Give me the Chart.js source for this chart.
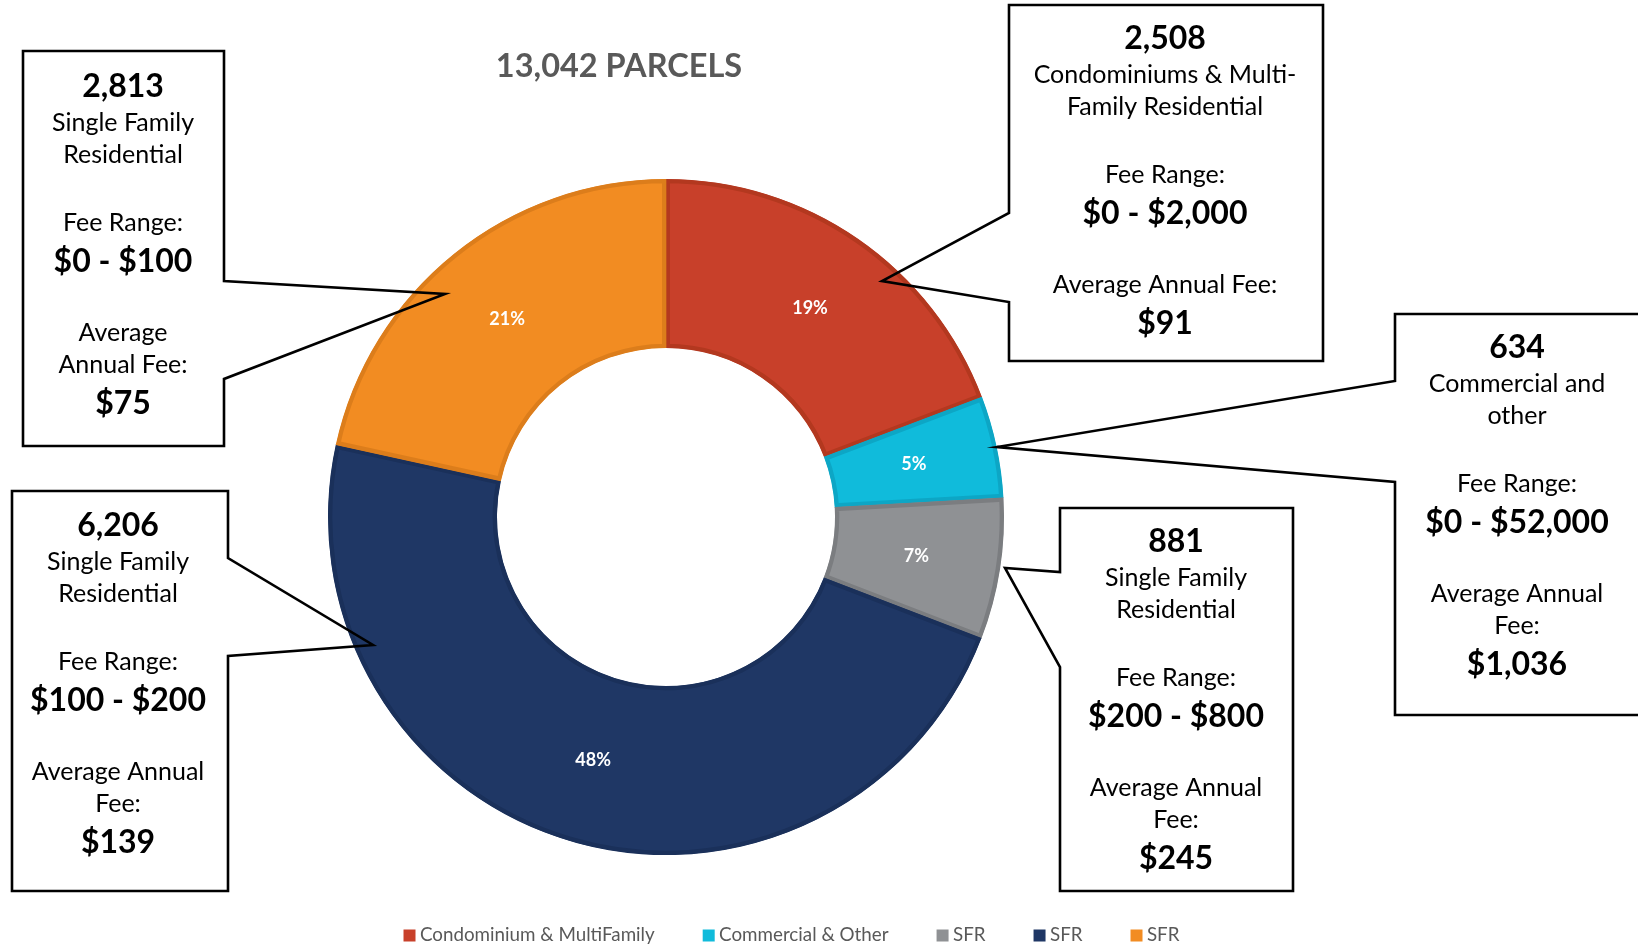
<!DOCTYPE html>
<html><head><meta charset="utf-8">
<script src="https://cdn.jsdelivr.net/npm/chart.js@4.4.1/dist/chart.umd.min.js"></script>
<style>html,body{margin:0;padding:0;background:#fff;}canvas{display:block;}</style>
</head><body>
<canvas id="c" width="1638" height="945"></canvas>
<script>
// ---------- data ----------
const categories = ['Condominium & MultiFamily', 'Commercial & Other', 'SFR', 'SFR', 'SFR'];
const parcels = [2508, 634, 881, 6206, 2813];
const pctLabels = ['19%', '5%', '7%', '48%', '21%'];
const titleText = '13,042 PARCELS';
const countLabels = ['2,508', '634', '881', '6,206', '2,813'];
const typeLabels = [['Condominiums & Multi-', 'Family Residential'], ['Commercial and', 'other'], ['Single Family', 'Residential'], ['Single Family', 'Residential'], ['Single Family', 'Residential']];
const feeRangeLabels = ['$0 - $2,000', '$0 - $52,000', '$200 - $800', '$100 - $200', '$0 - $100'];
const avgCaptionLabels = [['Average Annual Fee:'], ['Average Annual', 'Fee:'], ['Average Annual', 'Fee:'], ['Average Annual', 'Fee:'], ['Average', 'Annual Fee:']];
const avgFeeLabels = ['$91', '$1,036', '$245', '$139', '$75'];

// ---------- styles / layout ----------
const fillColors = ['#C8402A', '#10BBDB', '#8F9194', '#1F3765', '#F28C22'];
const edgeColors = ['#B3381F', '#0DA6C5', '#7B7D80', '#1A305A', '#DC7D1B'];
const FONT = 'Lato, "Open Sans", sans-serif';
const calloutLayout = [
  {box: [1009, 5, 1323, 361], side: 'left', notch: [213, 302], tip: [882, 281], cx: 1165, y0: 37},
  {box: [1395, 314, 1660, 715], side: 'left', notch: [381, 482], tip: [997, 447], cx: 1517, y0: 346},
  {box: [1060, 508, 1293, 891], side: 'left', notch: [572, 667], tip: [1005, 568], cx: 1176, y0: 540},
  {box: [12, 491, 228, 891], side: 'right', notch: [558, 656], tip: [373, 645], cx: 118, y0: 524},
  {box: [23, 51, 224, 446], side: 'right', notch: [281, 379], tip: [445, 294], cx: 123, y0: 85}
];
const LEGEND_DX = 128, LEGEND_DY = 18;

const legendShift = {
  id: 'legendShift',
  afterLayout(chart) {
    const lg = chart.legend;
    lg.left += LEGEND_DX; lg.right += LEGEND_DX;
    lg.top += LEGEND_DY; lg.bottom += LEGEND_DY;
  }
};

function calloutPath(ctx, c) {
  const [L, T, R, B] = c.box;
  ctx.beginPath();
  if (c.side === 'left') {
    ctx.moveTo(L, T); ctx.lineTo(R, T); ctx.lineTo(R, B); ctx.lineTo(L, B);
    ctx.lineTo(L, c.notch[1]); ctx.lineTo(c.tip[0], c.tip[1]); ctx.lineTo(L, c.notch[0]);
  } else {
    ctx.moveTo(L, T); ctx.lineTo(R, T); ctx.lineTo(R, c.notch[0]); ctx.lineTo(c.tip[0], c.tip[1]);
    ctx.lineTo(R, c.notch[1]); ctx.lineTo(R, B); ctx.lineTo(L, B);
  }
  ctx.closePath();
}

const annotations = {
  id: 'annotations',
  afterDatasetsDraw(chart) {
    const ctx = chart.ctx;
    const meta = chart.getDatasetMeta(0);
    ctx.save();
    // percentage labels in slices
    ctx.fillStyle = '#ffffff';
    ctx.font = 'bold 18px ' + FONT;
    ctx.textAlign = 'center';
    ctx.textBaseline = 'middle';
    meta.data.forEach((arc, i) => {
      const p = arc.tooltipPosition();
      ctx.fillText(pctLabels[i], p.x, p.y);
    });
    // callouts
    calloutLayout.forEach((c, i) => {
      ctx.lineWidth = 2.6;
      ctx.strokeStyle = '#000000';
      ctx.lineJoin = 'miter';
      calloutPath(ctx, c);
      ctx.stroke();
      const sections = [
        [{t: countLabels[i], b: true}].concat(typeLabels[i].map(t => ({t}))),
        [{t: 'Fee Range:'}, {t: feeRangeLabels[i], b: true}],
        avgCaptionLabels[i].map(t => ({t})).concat([{t: avgFeeLabels[i], b: true}])
      ];
      let y = c.y0, prev = null;
      ctx.fillStyle = '#000000';
      ctx.textAlign = 'center';
      ctx.textBaseline = 'alphabetic';
      sections.forEach((sec) => {
        sec.forEach((ln, li) => {
          if (prev) {
            if (li === 0) y += prev.b ? 72 : 68;
            else if (prev.b && !ln.b) y += 37;
            else if (!prev.b && ln.b) y += 38;
            else y += 32;
          }
          if (ln.b) { ctx.font = 'bold 32px ' + FONT; ctx.fillText(ln.t, c.cx, y + 11.5); }
          else { ctx.font = '25px ' + FONT; ctx.fillText(ln.t, c.cx, y + 9); }
          prev = ln;
        });
      });
    });
    // title
    ctx.fillStyle = '#595959';
    ctx.font = 'bold 32.5px ' + FONT;
    ctx.fillText(titleText, 619, 65 + 11.5);
    ctx.restore();
  }
};

new Chart(document.getElementById('c'), {
  type: 'doughnut',
  data: {
    labels: categories,
    datasets: [{
      data: parcels,
      backgroundColor: fillColors,
      borderColor: edgeColors,
      borderWidth: 4,
      borderAlign: 'inner',
      radius: 338,
      cutout: '50%',
      hoverOffset: 0
    }]
  },
  options: {
    responsive: false,
    animation: false,
    cutout: '50%',
    radius: 338,
    layout: {padding: {left: 0, right: 306, top: 179, bottom: 8.2}},
    plugins: {
      tooltip: {enabled: false},
      title: {display: false},
      legend: {
        display: true,
        position: 'bottom',
        labels: {
          color: '#595959',
          font: {family: FONT, size: 18.8},
          usePointStyle: true,
          pointStyle: 'rect',
          boxWidth: 2,
          boxHeight: 12,
          padding: 53,
          generateLabels(chart) {
            return Chart.overrides.doughnut.plugins.legend.labels.generateLabels(chart)
              .map(l => Object.assign(l, {lineWidth: 0, strokeStyle: 'rgba(0,0,0,0)', pointStyle: 'rect'}));
          }
        }
      }
    }
  },
  plugins: [legendShift, annotations]
});
</script>
</body></html>
